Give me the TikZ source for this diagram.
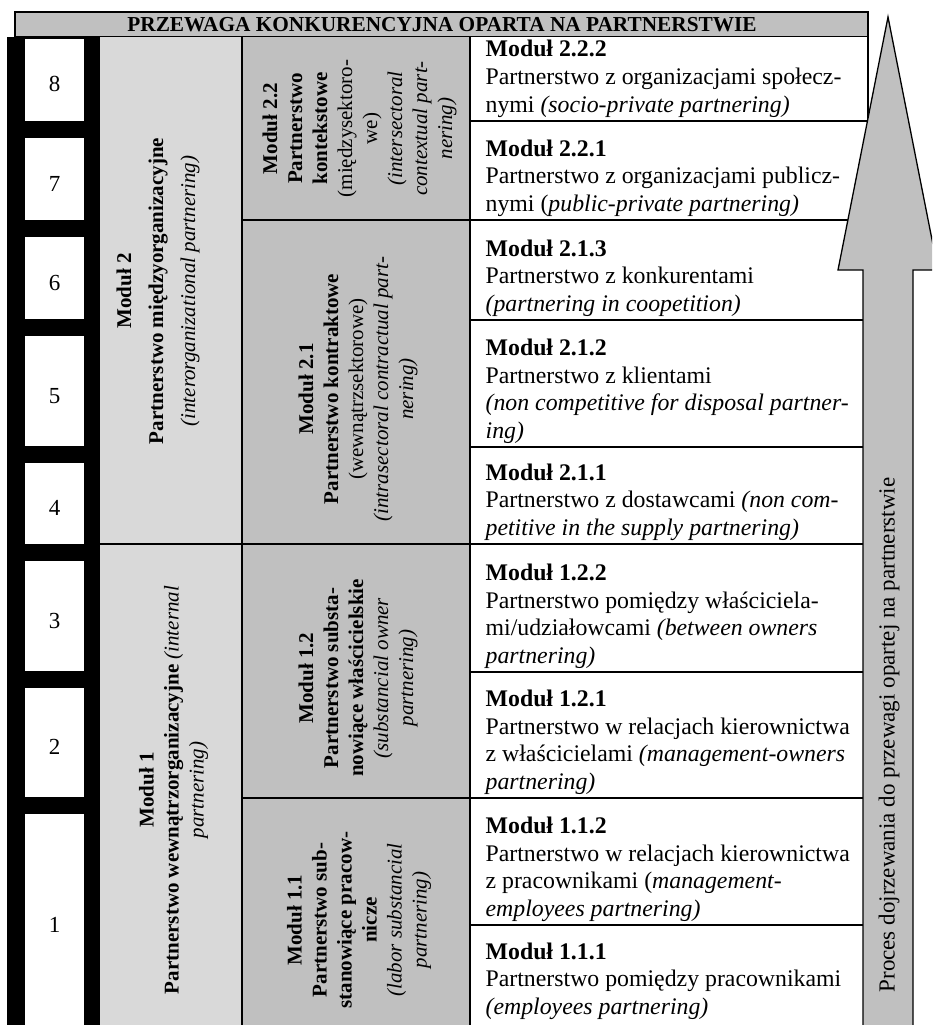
\documentclass[tikz,border=0pt]{standalone}
\usepackage{fontspec}
\setmainfont{Liberation Serif}
\definecolor{lgray}{HTML}{D9D9D9}
\definecolor{dgray}{HTML}{C0C0C0}
\begin{document}
\begin{tikzpicture}[x=1pt,y=-1pt,
  line width=1.3pt,
  rowtext/.style={anchor=base west, inner sep=0pt, align=left, font=\fontsize{23.8}{27.5}\selectfont},
  coltext/.style={rotate=90, inner sep=0pt, align=center, font=\fontsize{21}{25}\selectfont},
  numtext/.style={anchor=base, inner sep=0pt, font=\fontsize{23}{27}\selectfont},
  ladderbox/.style={fill=white},
  arrowshape/.style={draw=black, fill=dgray, line join=miter},
]
\useasboundingbox (0,0) rectangle (932,1025);
\clip (0,0) rectangle (932,1025);
% title bar
\path[fill=dgray,draw=black] (15,12) rectangle (868,37);
\node[anchor=base, inner sep=0pt, font=\fontsize{21.3}{25}\selectfont\bfseries] (title) at (442,32) {PRZEWAGA KONKURENCYJNA OPARTA NA PARTNERSTWIE};
% ladder
\fill[black] (7,37) rectangle (100,1035);
\fill[ladderbox] (25,39) rectangle (84,121);
\fill[ladderbox] (25,138) rectangle (84,220);
\fill[ladderbox] (25,237) rectangle (84,319);
\fill[ladderbox] (25,336) rectangle (84,446);
\fill[ladderbox] (25,463) rectangle (84,544);
\fill[ladderbox] (25,561) rectangle (84,671);
\fill[ladderbox] (25,688) rectangle (84,797);
\fill[ladderbox] (25,814) rectangle (84,1035);
\node[numtext] (n8) at (54.5,92) {8};
\node[numtext] (n7) at (54.5,191) {7};
\node[numtext] (n6) at (54.5,290) {6};
\node[numtext] (n5) at (54.5,403) {5};
\node[numtext] (n4) at (54.5,515.5) {4};
\node[numtext] (n3) at (54.5,628) {3};
\node[numtext] (n2) at (54.5,754.5) {2};
\node[numtext] (n1) at (54.5,932) {1};
% columns
\fill[lgray] (100,37) rectangle (242,1035);
\fill[dgray] (242,37) rectangle (470,1035);
\fill[white] (470,37) rectangle (868,1035);
\draw (242,37) -- (242,1035);
\draw (470,37) -- (470,1035);
\draw (868,37) -- (868,1035);
\draw (100,544) -- (868,544);
\draw (242,220) -- (868,220);
\draw (242,798) -- (868,798);
\draw (470,121) -- (868,121);
\draw (470,320) -- (868,320);
\draw (470,447) -- (868,447);
\draw (470,672) -- (868,672);
\draw (470,925) -- (868,925);
% column 2 texts
\node[coltext, font=\fontsize{21}{32}\selectfont] (m2) at (158,291) {\textbf{Moduł 2}\\\textbf{Partnerstwo międzyorganizacyjne}\\\textit{(interorganizational partnering)}};
\node[coltext] (m1) at (173.5,790) {\textbf{Moduł 1}\\\textbf{Partnerstwo wewnątrzorganizacyjne} \textit{(internal}\\\textit{partnering)}};
% column 3 texts
\node[coltext] (m22) at (359.5,128.5) {\textbf{Moduł 2.2}\\\textbf{Partnerstwo}\\\textbf{kontekstowe}\\(międzysektoro-\\we)\\\textit{(intersectoral}\\\textit{contextual part-}\\\textit{nering)}};
\node[coltext] (m21) at (358,389) {\textbf{Moduł 2.1}\\\textbf{Partnerstwo kontraktowe}\\(wewnątrzsektorowe)\\\textit{(intrasectoral contractual part-}\\\textit{nering)}};
\node[coltext] (m12) at (358,678) {\textbf{Moduł 1.2}\\\textbf{Partnerstwo substa-}\\\textbf{nowiące właścicielskie}\\\textit{(substancial owner}\\\textit{partnering)}};
\node[coltext] (m11) at (359,920) {\textbf{Moduł 1.1}\\\textbf{Partnerstwo sub-}\\\textbf{stanowiące pracow-}\\\textbf{nicze}\\\textit{(labor substancial}\\\textit{partnering)}};
% rows (anchored at the baseline of the last line)
\node[rowtext] (r222) at (485,112) {\textbf{Moduł 2.2.2}\\Partnerstwo z organizacjami społecz-\\nymi \textit{(socio-private partnering)}};
\node[rowtext] (r221) at (485,211) {\textbf{Moduł 2.2.1}\\Partnerstwo z organizacjami publicz-\\nymi (\textit{public-private partnering)}};
\node[rowtext] (r213) at (485,311) {\textbf{Moduł 2.1.3}\\Partnerstwo z konkurentami\\\textit{(partnering in coopetition)}};
\node[rowtext] (r212) at (485,438) {\textbf{Moduł 2.1.2}\\Partnerstwo z klientami\\\textit{(non competitive for disposal partner-}\\\textit{ing)}};
\node[rowtext] (r211) at (485,535) {\textbf{Moduł 2.1.1}\\Partnerstwo z dostawcami \textit{(non com-}\\\textit{petitive in the supply partnering)}};
\node[rowtext] (r122) at (485,663) {\textbf{Moduł 1.2.2}\\Partnerstwo pomiędzy właściciela-\\mi/udziałowcami \textit{(between owners}\\\textit{partnering)}};
\node[rowtext] (r121) at (485,789) {\textbf{Moduł 1.2.1}\\Partnerstwo w relacjach kierownictwa\\z właścicielami \textit{(management-owners}\\\textit{partnering)}};
\node[rowtext] (r112) at (485,916) {\textbf{Moduł 1.1.2}\\Partnerstwo w relacjach kierownictwa\\z pracownikami (\textit{management-}\\\textit{employees partnering)}};
\node[rowtext] (r111) at (485,1014) {\textbf{Moduł 1.1.1}\\Partnerstwo pomiędzy pracownikami\\\textit{(employees partnering)}};
% arrow
\draw[arrowshape] (888,17) -- (938,270) -- (913,270) -- (913,1040) -- (863,1040) -- (863,270) -- (838,270) -- cycle;
\node[rotate=90, inner sep=0pt, font=\fontsize{23}{27}\selectfont] (lbl) at (889,735) {Proces dojrzewania do przewagi opartej na partnerstwie};
\end{tikzpicture}
\end{document}
